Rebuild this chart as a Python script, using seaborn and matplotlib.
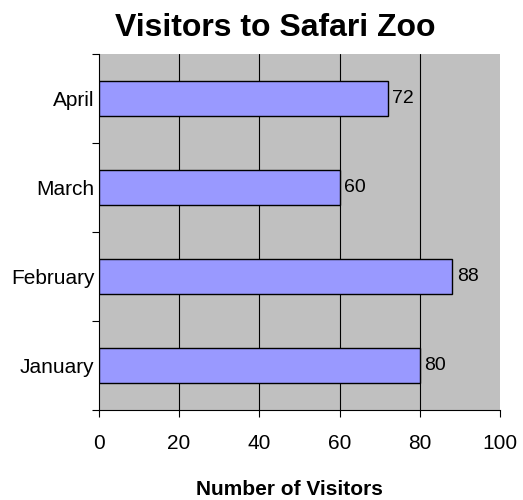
import matplotlib
matplotlib.use("Agg")
import matplotlib.pyplot as plt
import seaborn as sns
import pandas as pd

months = ["April", "March", "February", "January"]
visitors = [72, 60, 88, 80]

df = pd.DataFrame({"month": months, "visitors": visitors})

sns.set_style("white")
plt.rcParams['font.family'] = ['Liberation Sans', 'DejaVu Sans']
plt.rcParams['text.color'] = 'black'
plt.rcParams['xtick.color'] = 'black'
plt.rcParams['ytick.color'] = 'black'
plt.rcParams['axes.labelcolor'] = 'black'

fig = plt.figure(figsize=(5.23, 5.0), dpi=100)
ax = fig.add_axes([0.189, 0.18, 0.767, 0.712])
ax.set_facecolor("#C0C0C0")

sns.barplot(data=df, x="visitors", y="month", order=months, orient="h",
            color="#9999FF", edgecolor="black", linewidth=1.0,
            width=0.4, saturation=1, ax=ax, zorder=3)

for i, v in enumerate(visitors):
    ax.text(v + 1.2, i, str(v), va="center", ha="left", fontsize=14, zorder=4)

ax.set_xlim(0, 100)
ax.set_ylim(3.5, -0.5)
ax.set_xticks([0, 20, 40, 60, 80, 100])
ax.set_xticklabels(["0", "20", "40", "60", "80", "100"], fontsize=15)
ax.set_yticks([0, 1, 2, 3])
ax.set_yticklabels(months, fontsize=15)
ax.set_yticks([-0.5, 0.5, 1.5, 2.5, 3.5], minor=True)
ax.tick_params(axis="y", which="major", left=False, length=0, pad=3)
ax.tick_params(axis="y", which="minor", left=True, length=5, direction="out", width=0.8)
ax.tick_params(axis="x", bottom=True, length=5, direction="out", width=0.8, pad=12)

for x in [20, 40, 60, 80]:
    ax.axvline(x, color="black", linewidth=0.8, zorder=1)

for s in ["top", "right"]:
    ax.spines[s].set_visible(False)
for s in ["left", "bottom"]:
    ax.spines[s].set_color("black")
    ax.spines[s].set_linewidth(0.8)

ax.set_xlabel("Number of Visitors", fontsize=15, fontweight="bold", labelpad=20, x=0.476)
ax.set_ylabel("")
fig.suptitle("Visitors to Safari Zoo", fontsize=23, fontweight="bold", x=0.526, y=0.975)

fig.savefig("out.png", dpi=100)
